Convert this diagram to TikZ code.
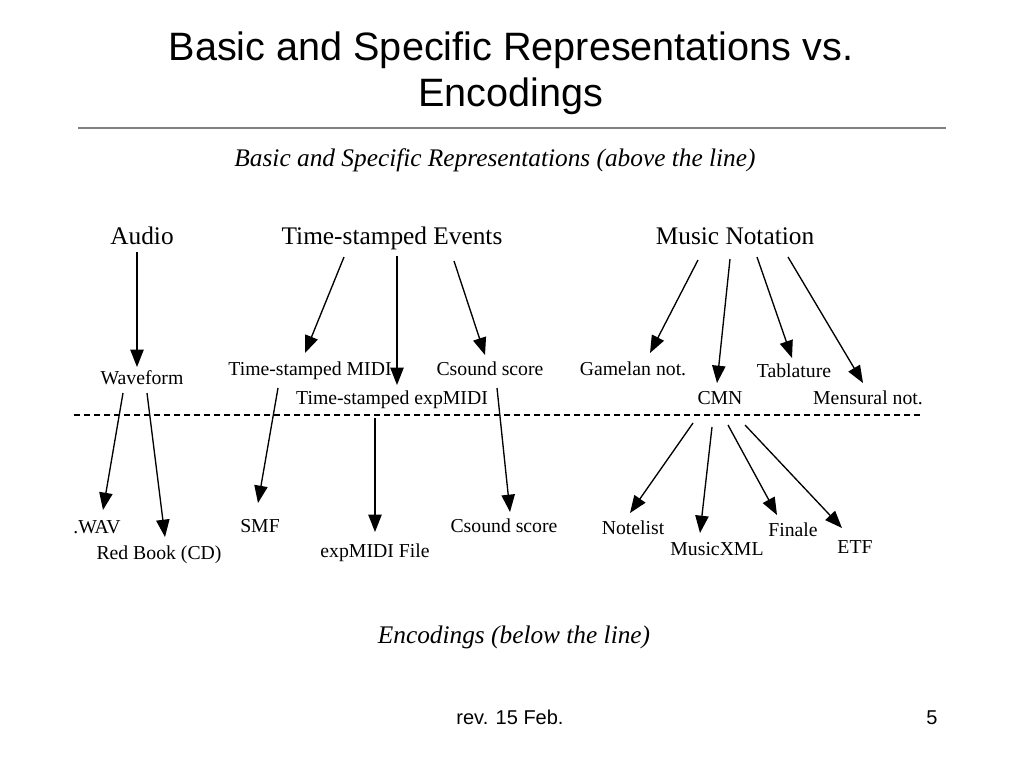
\documentclass[tikz,border=0pt]{standalone}
\usepackage{fontspec}
\setmainfont{Liberation Serif}
\setsansfont{Liberation Sans}
\usepackage{tikz}
\usetikzlibrary{arrows.meta}

\tikzset{
  head/.style={font=\fontsize{19}{21}\selectfont, inner sep=0pt, text height=1em, text depth=0pt},
  item/.style={font=\fontsize{14.8}{16}\selectfont, inner sep=0pt, text height=0.88em, text depth=0pt},
  note/.style={font=\itshape\fontsize{19}{21}\selectfont, inner sep=0pt},
  foot/.style={font=\sffamily\fontsize{15}{17}\selectfont, inner sep=0pt, anchor=base},
  conn/.style={line width=1pt, -{Triangle[length=13pt,width=10pt]}},
  sep/.style={line width=0.8pt, dash pattern=on 4.5pt off 3pt},
}

\begin{document}
\begin{tikzpicture}[x=0.75pt,y=-0.75pt]
        \useasboundingbox (0,0) rectangle (1024,768);
        % title
        \node[font=\sffamily\fontsize{29.7}{34.5}\selectfont, align=center, inner sep=0pt] (title) at (511,73)
            {Basic and Specific Representations vs.\\Encodings};
        \draw[line width=1.5pt, gray] (78,128) -- (946,128);
        \node[note] (above) at (495,160) {Basic and Specific Representations (above the line)};
        % representations
        \node[head] (audio) at (142,238) {Audio};
        \node[head] (tse) at (392,238) {Time-stamped Events};
        \node[head] (mn) at (735,238) {Music Notation};
        \node[item] (wave) at (142,379) {Waveform};
        \node[item] (tsmidi) at (310,370) {Time-stamped MIDI};
        \node[item] (csA) at (490,370) {Csound score};
        \node[item] (tsexp) at (392,399) {Time-stamped expMIDI};
        \node[item] (gam) at (633,370) {Gamelan not.};
        \node[item] (cmn) at (720,399) {CMN};
        \node[item] (tab) at (794,372) {Tablature};
        \node[item] (mens) at (868,399) {Mensural not.};
        % the line
        \draw[sep] (74,415) -- (922,415);
        % encodings
        \node[item] (wav) at (97,528) {.WAV};
        \node[item] (redbook) at (159,554) {Red Book (CD)};
        \node[item] (smf) at (260,527) {SMF};
        \node[item] (expfile) at (375,552) {expMIDI File};
        \node[item] (csB) at (504,527) {Csound score};
        \node[item] (notelist) at (633,529) {Notelist};
        \node[item] (mxml) at (717,550) {MusicXML};
        \node[item] (finale) at (793,531) {Finale};
        \node[item] (etf) at (855,548) {ETF};
        \node[note] (below) at (514,637) {Encodings (below the line)};
        % arrows
        \draw[conn] ([shift={(-5,14)}]audio.center) -- ([shift={(-5,-12)}]wave.center);
        \draw[conn] ([shift={(-48,19)}]tse.center) -- ([shift={(-5,-17)}]tsmidi.center);
        \draw[conn] ([shift={(5,18)}]tse.center) -- ([shift={(5,-14)}]tsexp.center);
        \draw[conn] ([shift={(62,23)}]tse.center) -- ([shift={(-5,-15)}]csA.center);
        \draw[conn] ([shift={(-19,14)}]wave.center) -- ([shift={(6,-18)}]wav.center);
        \draw[conn] ([shift={(5,14)}]wave.center) -- ([shift={(6,-17)}]redbook.center);
        \draw[conn] ([shift={(-32,18)}]tsmidi.center) -- ([shift={(-2,-24)}]smf.center);
        \draw[conn] ([shift={(-17,19)}]tsexp.center) -- ([shift={(0,-20)}]expfile.center);
        \draw[conn] ([shift={(7,18)}]csA.center) -- ([shift={(6,-15)}]csB.center);
        \draw[conn] ([shift={(-37,22)}]mn.center) -- ([shift={(17,-17)}]gam.center);
        \draw[conn] ([shift={(-5,21)}]mn.center) -- ([shift={(-3,-16)}]cmn.center);
        \draw[conn] ([shift={(22,19)}]mn.center) -- ([shift={(-2,-14)}]tab.center);
        \draw[conn] ([shift={(53,19)}]mn.center) -- ([shift={(-5,-16)}]mens.center);
        \draw[conn] ([shift={(-27,24)}]cmn.center) -- ([shift={(-3,-16)}]notelist.center);
        \draw[conn] ([shift={(-8,28)}]cmn.center) -- ([shift={(-17,-17)}]mxml.center);
        \draw[conn] ([shift={(8,26)}]cmn.center) -- ([shift={(-16,-16)}]finale.center);
        \draw[conn] ([shift={(25,26)}]cmn.center) -- ([shift={(-13,-20)}]etf.center);
        % footer
        \node[foot] (rev) at (510,724) {rev. 15 Feb.};
        \node[foot] (page) at (932,724) {5};
\end{tikzpicture}
\end{document}
